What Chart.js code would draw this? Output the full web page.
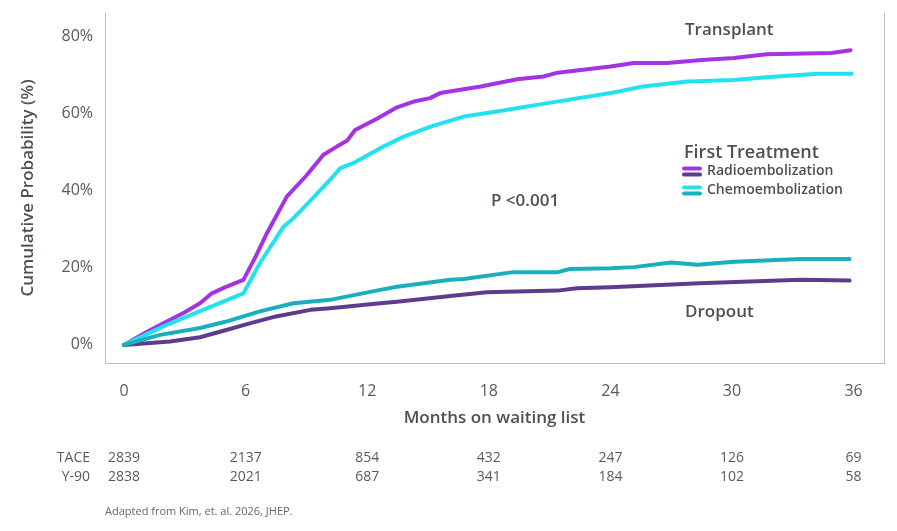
<!DOCTYPE html>
<html>
<head>
<meta charset="utf-8">
<script src="https://cdn.jsdelivr.net/npm/chart.js@4/dist/chart.umd.min.js"></script>
<style>
  html, body { margin: 0; padding: 0; background: #ffffff; }
  #wrap { width: 897px; height: 531px; position: relative; }
</style>
</head>
<body>
<div id="wrap"><canvas id="c" width="897" height="531"></canvas></div>
<script>
// ---- Data ----
const monthTicks = [0, 6, 12, 18, 24, 30, 36];
const pctTicks = [0, 20, 40, 60, 80];

const y90TransplantMonths = [0, 1, 1.94, 3, 3.75, 4.33, 5.0, 5.89, 6.5, 7.05, 8.03, 9.0, 9.84, 10.5, 11.0, 11.4, 12.5, 13.47, 14.3, 15.1, 15.6, 17.6, 19.4, 20.7, 21.4, 24.0, 25.15, 26.8, 28.5, 30.1, 31.7, 34.9, 35.85];
const y90TransplantPct    = [0, 3.0, 5.6, 8.5, 10.8, 13.4, 15.0, 16.9, 23.0, 29.0, 38.5, 44.0, 49.4, 51.5, 53.0, 55.8, 58.8, 61.7, 63.2, 64.1, 65.4, 67.1, 69.0, 69.7, 70.7, 72.3, 73.2, 73.2, 74.0, 74.5, 75.5, 75.8, 76.5];

const taceTransplantMonths = [0, 1.94, 3.9, 5.89, 6.7, 7.87, 8.36, 9.2, 10.17, 10.67, 11.3, 12.64, 13.8, 15.2, 16.76, 18.4, 20.9, 24.0, 25.6, 27.8, 30.1, 31.7, 34.2, 35.9];
const taceTransplantPct    = [0, 4.8, 9.1, 13.4, 21.2, 30.7, 32.9, 37.5, 42.9, 45.9, 47.2, 51.1, 54.1, 56.8, 59.3, 60.6, 62.8, 65.4, 67.1, 68.4, 68.8, 69.5, 70.4, 70.4];

const taceDropoutMonths = [0, 1.78, 3.75, 5.0, 6.7, 8.36, 10.17, 12.64, 13.47, 16.1, 16.76, 19.2, 21.4, 22.0, 24.0, 25.15, 27.0, 28.3, 30.1, 33.4, 35.8];
const taceDropoutPct    = [0, 2.6, 4.4, 6.0, 8.7, 10.8, 11.7, 14.3, 15.1, 16.9, 17.1, 18.9, 18.9, 19.7, 19.9, 20.2, 21.4, 20.8, 21.6, 22.3, 22.3];

const y90DropoutMonths = [0, 2.27, 3.75, 5.0, 6.2, 7.5, 9.2, 10.17, 12.64, 13.47, 16.1, 17.9, 21.4, 22.35, 24.0, 28.4, 33.4, 35.8];
const y90DropoutPct    = [0, 0.9, 2.0, 3.8, 5.6, 7.4, 9.1, 9.5, 10.8, 11.2, 12.7, 13.7, 14.1, 14.7, 15.0, 16.0, 16.9, 16.7];

const atRiskLabels = ["TACE", "Y-90"];
const taceAtRisk = [2839, 2137, 854, 432, 247, 126, 69];
const y90AtRisk  = [2838, 2021, 687, 341, 184, 102, 58];

const seriesNames = ["Radioembolization", "Chemoembolization"];
const curveLabels = ["Transplant", "Dropout"];
const legendTitle = "First Treatment";
const pValueText = "P <0.001";
const footnoteText = "Adapted from Kim, et. al. 2026, JHEP.";
const xAxisTitle = "Months on waiting list";
const yAxisTitle = "Cumulative Probability (%)";

// ---- Styles ----
const C_Y90_T = "#A433E4";
const C_Y90_D = "#5F3B8E";
const C_TACE_T = "#22E2F0";
const C_TACE_D = "#19AFBE";
const TEXT_DARK = "#4c5157";
const TEXT_TICK = "#5a5a5a";
const AXIS_LINE = "#bdbdbd";
const FONT = "'Open Sans', 'Noto Sans', sans-serif";

function pts(xs, ys) { return xs.map((x, i) => ({ x: x, y: ys[i] })); }

const extras = {
  id: "extras",
  afterDraw(chart) {
    const ctx = chart.ctx;
    const xs = chart.scales.x;
    const area = chart.chartArea;
    ctx.save();
    // right border
    ctx.strokeStyle = AXIS_LINE;
    ctx.lineWidth = 1;
    ctx.beginPath();
    ctx.moveTo(area.right + 0.5, area.top);
    ctx.lineTo(area.right + 0.5, area.bottom + 0.5);
    ctx.stroke();

    // curve annotations
    ctx.fillStyle = TEXT_DARK;
    ctx.textBaseline = "middle";
    ctx.textAlign = "left";
    ctx.font = "600 17px " + FONT;
    ctx.fillText(curveLabels[0], 685, 30);
    ctx.fillText(curveLabels[1], 685, 312);
    ctx.fillText(pValueText, 491, 201);

    // legend
    ctx.font = "600 18px " + FONT;
    ctx.fillText(legendTitle, 684, 153);
    const legendRows = [
      { name: seriesNames[0], c1: C_Y90_T, c2: C_Y90_D, y: 171.5 },
      { name: seriesNames[1], c1: C_TACE_T, c2: C_TACE_D, y: 190.5 }
    ];
    ctx.lineCap = "round";
    ctx.lineWidth = 4;
    legendRows.forEach(r => {
      ctx.strokeStyle = r.c1;
      ctx.beginPath(); ctx.moveTo(684, r.y - 3); ctx.lineTo(700, r.y - 3); ctx.stroke();
      ctx.strokeStyle = r.c2;
      ctx.beginPath(); ctx.moveTo(684, r.y + 3); ctx.lineTo(700, r.y + 3); ctx.stroke();
      ctx.fillStyle = TEXT_DARK;
      ctx.font = "600 14px " + FONT;
      ctx.fillText(r.name, 707, r.y);
    });

    // at-risk table
    ctx.fillStyle = TEXT_TICK;
    ctx.font = "14px " + FONT;
    ctx.textAlign = "right";
    ctx.fillText(atRiskLabels[0], 90, 458);
    ctx.fillText(atRiskLabels[1], 90, 477);
    ctx.textAlign = "center";
    monthTicks.forEach((m, i) => {
      const px = xs.getPixelForValue(m);
      ctx.fillText(String(taceAtRisk[i]), px, 458);
      ctx.fillText(String(y90AtRisk[i]), px, 477);
    });

    // footnote
    ctx.textAlign = "left";
    ctx.font = "11px " + FONT;
    ctx.fillStyle = "#666666";
    ctx.fillText(footnoteText, 105, 512);
    ctx.restore();
  }
};

const lineStyle = { borderWidth: 4, pointRadius: 0, tension: 0, fill: false, borderCapStyle: "round", borderJoinStyle: "round" };

function zeroPad(s) { s.paddingTop = 0; s.paddingBottom = 0; s.paddingLeft = 0; s.paddingRight = 0; }

new Chart(document.getElementById("c"), {
  type: "line",
  data: {
    datasets: [
      Object.assign({ label: seriesNames[1] + " dropout", data: pts(taceDropoutMonths, taceDropoutPct), borderColor: C_TACE_D }, lineStyle),
      Object.assign({ label: seriesNames[0] + " dropout", data: pts(y90DropoutMonths, y90DropoutPct), borderColor: C_Y90_D }, lineStyle),
      Object.assign({ label: seriesNames[1] + " transplant", data: pts(taceTransplantMonths, taceTransplantPct), borderColor: C_TACE_T }, lineStyle),
      Object.assign({ label: seriesNames[0] + " transplant", data: pts(y90TransplantMonths, y90TransplantPct), borderColor: C_Y90_T }, lineStyle)
    ]
  },
  options: {
    responsive: false,
    animation: false,
    devicePixelRatio: 1,
    layout: { padding: { left: 18, top: 13, right: 13, bottom: 103 } },
    plugins: { legend: { display: false }, tooltip: { enabled: false } },
    scales: {
      x: {
        type: "linear",
        min: -0.94,
        max: 37.5,
        afterBuildTicks: (s) => { s.ticks = monthTicks.map(v => ({ value: v })); },
        afterFit: (s) => { s.height = 65; zeroPad(s); },
        grid: { display: false, drawTicks: false },
        border: { display: true, color: AXIS_LINE, width: 1 },
        ticks: { padding: 19, color: TEXT_TICK, font: { family: FONT, size: 16 }, maxRotation: 0, autoSkip: false },
        title: { display: true, text: xAxisTitle, color: TEXT_DARK, font: { family: FONT, size: 17, weight: "600" }, padding: 0 }
      },
      y: {
        type: "linear",
        min: -4.7,
        max: 86.2,
        afterBuildTicks: (s) => { s.ticks = pctTicks.map(v => ({ value: v })); },
        afterFit: (s) => { s.width = 87; zeroPad(s); },
        grid: { display: false, drawTicks: false },
        border: { display: true, color: AXIS_LINE, width: 1 },
        ticks: { padding: 12, color: TEXT_TICK, font: { family: FONT, size: 16 }, callback: (v) => v + "%" },
        title: { display: true, text: yAxisTitle, color: TEXT_DARK, font: { family: FONT, size: 17, weight: "600" }, padding: 0 }
      }
    }
  },
  plugins: [extras]
});
</script>
</body>
</html>
